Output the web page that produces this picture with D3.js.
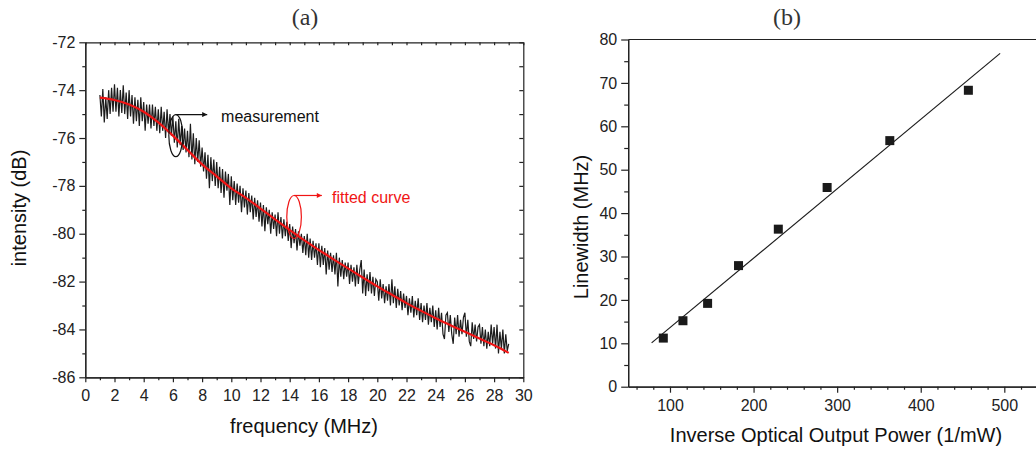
<!DOCTYPE html>
<html>
<head>
<meta charset="utf-8">
<script src="https://cdn.jsdelivr.net/npm/d3@7"></script>
<style>
    body { margin: 0; background: #fff; }
    svg { display: block; font-family: "Liberation Sans", Arial, sans-serif; }
    .axis path, .axis line { stroke: #222; stroke-width: 1.2; }
    .axis text { fill: #222; font-size: 16px; font-family: "Liberation Sans", Arial, sans-serif; }
    .title { font-size: 20px; fill: #111; }
    .panel { font-family: "Liberation Serif", "DejaVu Serif", serif; font-size: 24px; fill: #333; }
</style>
</head>
<body>
<svg id="chart" width="1036" height="450"></svg>
<script>
// ---- panel (a): noise spectrum ----
const freqTicks = [0, 2, 4, 6, 8, 10, 12, 14, 16, 18, 20, 22, 24, 26, 28, 30];
const dbTicks = [-86, -84, -82, -80, -78, -76, -74, -72];

const measStart = 1;
const measStep = 0.1;
const measurement = [
    -74.2, -75.1, -73.95, -75.35, -74.3, -75.2, -74.0, -75.0, -73.9, -74.9,
    -73.75, -74.9, -73.9, -75.1, -74.0, -74.95, -73.8, -75.0, -74.1, -75.2,
    -74.0, -75.1, -74.2, -75.4, -74.3, -75.3, -74.4, -75.5, -74.3, -75.3,
    -74.5, -75.7, -74.6, -75.4, -74.6, -75.6, -74.6, -75.5, -74.7, -75.7,
    -74.8, -75.8, -74.7, -75.7, -74.9, -76.0, -74.8, -75.8, -75.0, -75.9,
    -75.1, -76.2, -75.3, -76.4, -75.2, -76.3, -75.5, -76.5, -75.6, -76.6,
    -75.7, -76.8, -75.4, -76.9, -75.8, -77.1, -76.0, -77.0, -76.1, -77.2,
    -76.4, -77.4, -76.6, -77.7, -76.7, -78.1, -76.8, -77.8, -76.9, -78.0,
    -77.0, -78.1, -77.2, -78.3, -77.3, -78.5, -77.4, -78.2, -77.5, -78.8,
    -77.6, -78.6, -77.8, -78.8, -77.9, -78.7, -78.0, -79.1, -78.1, -78.9,
    -78.2, -79.2, -78.3, -79.1, -78.4, -79.4, -78.5, -79.3, -78.6, -79.5,
    -78.7, -79.7, -78.8, -79.9, -78.9, -79.6, -79.0, -80.0, -79.1, -79.8,
    -79.2, -80.1, -79.1, -80.0, -79.3, -80.2, -79.4, -80.1, -79.5, -80.3,
    -79.6, -80.6, -79.7, -80.4, -79.8, -80.7, -79.9, -80.5, -80.0, -80.8,
    -80.1, -80.9, -80.0, -81.0, -80.2, -81.1, -80.3, -81.0, -80.4, -81.3,
    -80.4, -81.4, -80.5, -81.3, -80.6, -81.7, -80.7, -81.5, -80.8, -81.6,
    -80.9, -81.7, -80.8, -82.2, -81.0, -81.8, -81.1, -81.9, -81.2, -81.8,
    -81.2, -82.1, -81.3, -82.0, -81.4, -82.2, -81.3, -82.1, -81.5, -81.1,
    -82.5, -81.5, -82.6, -81.7, -82.4, -81.6, -82.5, -81.8, -82.6, -81.9,
    -82.0, -82.8, -81.9, -82.7, -82.1, -82.9, -82.2, -82.8, -82.1, -83.0,
    -81.9, -82.9, -82.2, -83.1, -82.3, -83.0, -82.4, -83.2, -82.5, -83.1,
    -82.6, -83.4, -82.7, -83.3, -82.6, -83.5, -82.8, -83.4, -82.7, -83.6,
    -82.9, -83.7, -83.0, -83.6, -82.9, -83.8, -83.1, -83.7, -83.0, -83.9,
    -83.2, -84.0, -83.1, -83.9, -83.3, -84.2, -84.4, -83.4, -83.3, -84.1,
    -83.4, -84.2, -84.6, -83.5, -84.2, -83.4, -84.3, -83.6, -84.2, -83.5,
    -83.3, -84.3, -83.6, -84.5, -84.7, -83.7, -84.4, -83.8, -84.5, -83.9,
    -83.8, -84.6, -83.9, -84.7, -84.0, -84.8, -84.1, -84.7, -83.8, -84.6,
    -83.9, -84.8, -83.8, -85.0, -84.1, -84.8, -84.0, -85.0, -84.2, -84.9,
    -84.6
];

// fitted curve, sampled every 1 MHz
const fitFreq = [1, 2, 3, 4, 5, 6, 7, 8, 9, 10, 11, 12, 13, 14, 15, 16, 17, 18, 19, 20, 21, 22, 23, 24, 25, 26, 27, 28, 29];
const fitDb = [-74.31, -74.41, -74.6, -74.9, -75.35, -75.9, -76.5, -77.1, -77.6, -78.1,
    -78.5, -78.95, -79.4, -79.85, -80.27, -80.68, -81.07, -81.45, -81.83, -82.2,
    -82.55, -82.9, -83.22, -83.53, -83.82, -84.1, -84.38, -84.66, -84.98];

// ---- panel (b): linewidth vs inverse power ----
const powerTicks = [100, 200, 300, 400, 500];
const widthTicks = [0, 10, 20, 30, 40, 50, 60, 70, 80];
const invPower = [92, 115.5, 145, 182, 229.6, 288, 363, 457];
const linewidth = [11.2, 15.2, 19.2, 27.9, 36.3, 45.9, 56.7, 68.3];
const lineFitX = [78, 495];
const lineFitY = [10.1, 76.8];

const svg = d3.select('#chart');
const plain = d => String(d);

function drawPanelA() {
    const x = d3.scaleLinear().domain([0, 30]).range([85.3, 523.3]);
    const y = d3.scaleLinear().domain([-86, -72]).range([377.3, 42.3]);
    const g = svg.append('g');

    const minorX = d3.range(0, 31).filter(v => v % 2 !== 0);
    const minorY = d3.range(-86, -71).filter(v => v % 2 !== 0);

    // frame: top and right with inward ticks
    g.append('g').attr('class', 'axis').attr('transform', `translate(0,${y(-72)})`)
        .call(d3.axisBottom(x).tickValues(d3.range(0, 31)).tickSize(3).tickSizeOuter(0).tickFormat(''));
    g.append('g').attr('class', 'axis').attr('transform', `translate(${x(30)},0)`)
        .call(d3.axisLeft(y).tickValues(d3.range(-86, -71)).tickSize(4).tickSizeOuter(0).tickFormat(''));

    g.append('g').attr('class', 'axis').attr('transform', `translate(0,${y(-86)})`)
        .call(d3.axisBottom(x).tickValues(minorX).tickSize(3).tickSizeOuter(0).tickFormat(''));
    g.append('g').attr('class', 'axis').attr('transform', `translate(0,${y(-86)})`)
        .call(d3.axisBottom(x).tickValues(freqTicks).tickSize(5).tickSizeOuter(0).tickPadding(7).tickFormat(plain));

    g.append('g').attr('class', 'axis').attr('transform', `translate(${x(0)},0)`)
        .call(d3.axisLeft(y).tickValues(minorY).tickSize(3).tickSizeOuter(0).tickFormat(''));
    g.append('g').attr('class', 'axis').attr('transform', `translate(${x(0)},0)`)
        .call(d3.axisLeft(y).tickValues(dbTicks).tickSize(6).tickSizeOuter(0).tickPadding(4).tickFormat(plain));

    const meas = measurement.map((v, i) => [measStart + i * measStep, v]);
    g.append('path')
        .datum(meas)
        .attr('fill', 'none')
        .attr('stroke', '#1c1c1c')
        .attr('stroke-width', 1.2)
        .attr('d', d3.line().x(d => x(d[0])).y(d => y(d[1])));

    g.append('path')
        .datum(fitFreq.map((f, i) => [f, fitDb[i]]))
        .attr('fill', 'none')
        .attr('stroke', '#f01414')
        .attr('stroke-width', 2.2)
        .attr('d', d3.line().curve(d3.curveMonotoneX).x(d => x(d[0])).y(d => y(d[1])));

    // annotations
    const defs = svg.append('defs');
    [['arrowK', '#111'], ['arrowR', '#f01414']].forEach(([id, c]) => {
        defs.append('marker').attr('id', id)
            .attr('viewBox', '0 0 10 10').attr('refX', 10).attr('refY', 5)
            .attr('markerWidth', 9).attr('markerHeight', 5).attr('markerUnits', 'userSpaceOnUse')
            .attr('orient', 'auto')
            .append('path').attr('d', 'M0,0L10,5L0,10Z').attr('fill', c);
    });

    const notes = [
        { cx: 6.2, cy: -75.9, rx: 7, ry: 21, tip: 8.35, tx: 9.3, label: 'measurement', color: '#111', marker: 'arrowK', base: 122 },
        { cx: 14.3, cy: -79.3, rx: 7.3, ry: 21.5, tip: 16.2, tx: 16.9, label: 'fitted curve', color: '#f01414', marker: 'arrowR', base: 203 }
    ];
    notes.forEach(n => {
        const top = y(n.cy) - n.ry;
        g.append('ellipse')
            .attr('cx', x(n.cx)).attr('cy', y(n.cy))
            .attr('rx', n.rx).attr('ry', n.ry)
            .attr('fill', 'none').attr('stroke', n.color).attr('stroke-width', 1.2);
        g.append('line')
            .attr('x1', x(n.cx)).attr('y1', top)
            .attr('x2', x(n.tip)).attr('y2', top)
            .attr('stroke', n.color).attr('stroke-width', 1.2)
            .attr('marker-end', `url(#${n.marker})`);
        g.append('text')
            .attr('x', x(n.tx)).attr('y', n.base)
            .attr('fill', n.color).attr('font-size', 16)
            .text(n.label);
    });

    g.append('text').attr('class', 'title')
        .attr('text-anchor', 'middle')
        .attr('transform', 'translate(26,208) rotate(-90)')
        .text('intensity (dB)');
    g.append('text').attr('class', 'title')
        .attr('text-anchor', 'middle')
        .attr('x', 304).attr('y', 433)
        .text('frequency (MHz)');
    g.append('text').attr('class', 'panel')
        .attr('text-anchor', 'middle')
        .attr('x', 305).attr('y', 25)
        .text('(a)');
}

function drawPanelB() {
    const x = d3.scaleLinear().domain([50, 550]).range([628.2, 1046.1]);
    const y = d3.scaleLinear().domain([0, 80]).range([386.7, 39.5]);
    const g = svg.append('g');

    const minorX = d3.range(60, 551, 20).filter(v => v % 100 !== 0);
    const minorY = d3.range(5, 80, 10);

    g.append('line')
        .attr('x1', x(50)).attr('x2', x(550))
        .attr('y1', y(80)).attr('y2', y(80))
        .attr('stroke', '#222').attr('stroke-width', 1.2);

    g.append('g').attr('class', 'axis').attr('transform', `translate(0,${y(0)})`)
        .call(d3.axisBottom(x).tickValues(minorX).tickSize(3).tickSizeOuter(0).tickFormat(''));
    g.append('g').attr('class', 'axis').attr('transform', `translate(0,${y(0)})`)
        .call(d3.axisBottom(x).tickValues(powerTicks).tickSize(6).tickSizeOuter(0).tickPadding(7).tickFormat(plain));

    g.append('g').attr('class', 'axis').attr('transform', `translate(${x(50)},0)`)
        .call(d3.axisLeft(y).tickValues(minorY).tickSize(4).tickSizeOuter(0).tickFormat(''));
    g.append('g').attr('class', 'axis').attr('transform', `translate(${x(50)},0)`)
        .call(d3.axisLeft(y).tickValues(widthTicks).tickSize(7).tickSizeOuter(0).tickPadding(4).tickFormat(plain));

    g.append('line')
        .attr('x1', x(lineFitX[0])).attr('y1', y(lineFitY[0]))
        .attr('x2', x(lineFitX[1])).attr('y2', y(lineFitY[1]))
        .attr('stroke', '#1c1c1c').attr('stroke-width', 1.2);

    const s = 9;
    g.selectAll('.pt')
        .data(invPower.map((p, i) => [p, linewidth[i]]))
        .enter().append('rect')
        .attr('class', 'pt')
        .attr('x', d => x(d[0]) - s / 2)
        .attr('y', d => y(d[1]) - s / 2)
        .attr('width', s).attr('height', s)
        .attr('fill', '#1a1a1a');

    g.append('text').attr('class', 'title')
        .attr('text-anchor', 'middle')
        .attr('transform', 'translate(588,227) rotate(-90)')
        .text('Linewidth (MHz)');
    g.append('text').attr('class', 'title')
        .attr('text-anchor', 'middle')
        .attr('x', 836).attr('y', 442)
        .text('Inverse Optical Output Power (1/mW)');
    g.append('text').attr('class', 'panel')
        .attr('text-anchor', 'middle')
        .attr('x', 787).attr('y', 25)
        .text('(b)');
}

drawPanelA();
drawPanelB();
</script>
</body>
</html>
